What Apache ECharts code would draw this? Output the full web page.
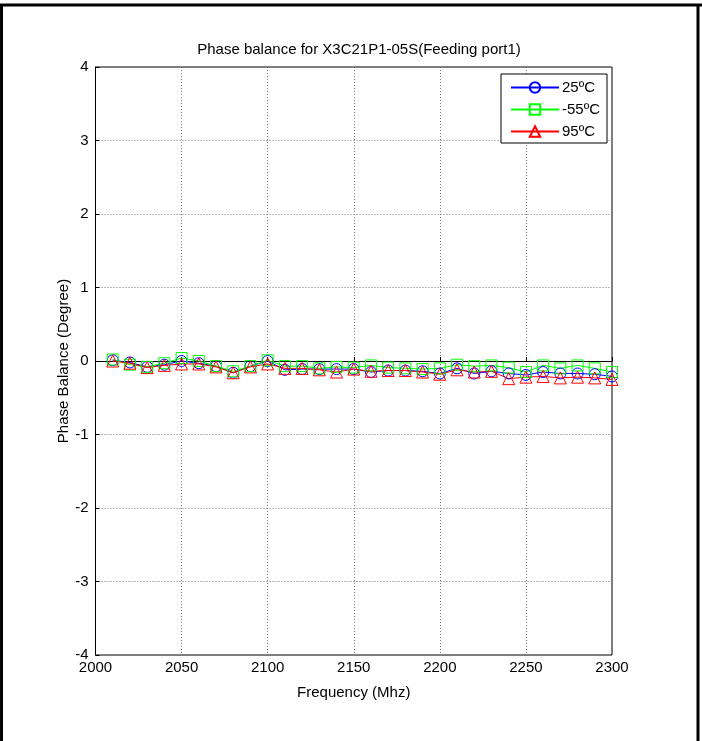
<!DOCTYPE html>
<html><head><meta charset="utf-8">
<script src="https://cdn.jsdelivr.net/npm/echarts@6/dist/echarts.min.js"></script>
<style>html,body{margin:0;padding:0;background:#fff}#c{width:702px;height:741px}</style>
</head><body><div id="c"></div>
<script>
const freqs = [2010,2020,2030,2040,2050,2060,2070,2080,2090,2100,2110,2120,2130,2140,2150,2160,2170,2180,2190,2200,2210,2220,2230,2240,2250,2260,2270,2280,2290,2300];
const s25 = [0.01,-0.02,-0.08,-0.05,0.00,-0.03,-0.07,-0.16,-0.07,0.00,-0.12,-0.11,-0.11,-0.11,-0.11,-0.15,-0.13,-0.13,-0.14,-0.17,-0.10,-0.17,-0.14,-0.17,-0.19,-0.15,-0.17,-0.17,-0.18,-0.21];
const sM55 = [0.02,-0.05,-0.08,-0.03,0.04,0.00,-0.07,-0.14,-0.07,0.01,-0.07,-0.07,-0.10,-0.08,-0.09,-0.06,-0.09,-0.10,-0.11,-0.10,-0.05,-0.07,-0.06,-0.09,-0.15,-0.06,-0.10,-0.06,-0.10,-0.15];
const s95 = [0.00,-0.03,-0.09,-0.06,-0.04,-0.04,-0.08,-0.16,-0.08,-0.04,-0.10,-0.10,-0.12,-0.15,-0.11,-0.14,-0.13,-0.13,-0.15,-0.18,-0.12,-0.15,-0.14,-0.24,-0.22,-0.21,-0.23,-0.22,-0.23,-0.25];
const seriesNames = ['25ºC','-55ºC','95ºC'];
const xTicks = [2000,2050,2100,2150,2200,2250,2300];
const yTicks = [-4,-3,-2,-1,0,1,2,3,4];

const chart = echarts.init(document.getElementById('c'));
const font = 'Liberation Sans, Arial, sans-serif';
function mk(name, data, color, symbol, size){
  return {name, type:'line', data: freqs.map((f,i)=>[f,data[i]]), symbol, symbolSize:size,
    showAllSymbol:true,
    lineStyle:{color, width:1}, itemStyle:{color:'rgba(255,255,255,0)', borderColor:color, borderWidth:1},
    emphasis:{disabled:true}, z: 3};
}
chart.setOption({
  animation:false,
  backgroundColor:'#fff',
  title:{text:'Phase balance for X3C21P1-05S(Feeding port1)', left:354, top:37, textAlign:'center',
    textStyle:{fontFamily:font, fontSize:15, fontWeight:'normal', color:'#000'}},
  grid:{left:95.5, right:90, top:67, bottom:86, show:true, borderColor:'#000', borderWidth:1, backgroundColor:'transparent'},
  legend:{right:95, top:74, orient:'vertical', backgroundColor:'#fff', borderColor:'#000', borderWidth:1,
    padding:[6,7,4,9], itemGap:7, itemWidth:48, itemHeight:13,
    textStyle:{fontFamily:font, fontSize:15, color:'#000', padding:[0,0,0,-2]},
    data: seriesNames},
  xAxis:{type:'value', min:xTicks[0], max:xTicks[xTicks.length-1], interval:50,
    name:'Frequency (Mhz)', nameLocation:'middle', nameGap:30,
    nameTextStyle:{fontFamily:font, fontSize:15, color:'#000'},
    axisLine:{show:true, lineStyle:{color:'#000'}}, axisTick:{inside:true, length:4, lineStyle:{color:'#000'}},
    axisLabel:{fontFamily:font, fontSize:15, color:'#000', margin:5, formatter:v=>String(v)},
    splitLine:{show:true, lineStyle:{color:'#777', type:[1,2], width:1}}},
  yAxis:{type:'value', min:yTicks[0], max:yTicks[yTicks.length-1], interval:1,
    name:'Phase Balance (Degree)', nameLocation:'middle', nameGap:24, nameMoveOverlap:false,
    nameTextStyle:{fontFamily:font, fontSize:15, color:'#000'},
    axisLine:{show:true, lineStyle:{color:'#000'}}, axisTick:{inside:true, length:4, lineStyle:{color:'#000'}},
    axisLabel:{fontFamily:font, fontSize:15, color:'#000', margin:7},
    splitLine:{show:true, lineStyle:{color:'#777', type:[1,2], width:1}}},
  series:[
    mk(seriesNames[0], s25, '#0000ff', 'circle', 11),
    mk(seriesNames[1], sM55, '#00ff00', 'rect', 11),
    mk(seriesNames[2], s95, '#ff0000', 'triangle', 12)
  ],
  graphic:[
    {type:'line', shape:{x1:0,y1:5,x2:702,y2:5}, style:{stroke:'#000', lineWidth:3}},
    {type:'line', shape:{x1:1.5,y1:5,x2:1.5,y2:741}, style:{stroke:'#000', lineWidth:3}},
    {type:'line', shape:{x1:698,y1:5,x2:698,y2:741}, style:{stroke:'#000', lineWidth:3}}
  ]
});
</script></body></html>
